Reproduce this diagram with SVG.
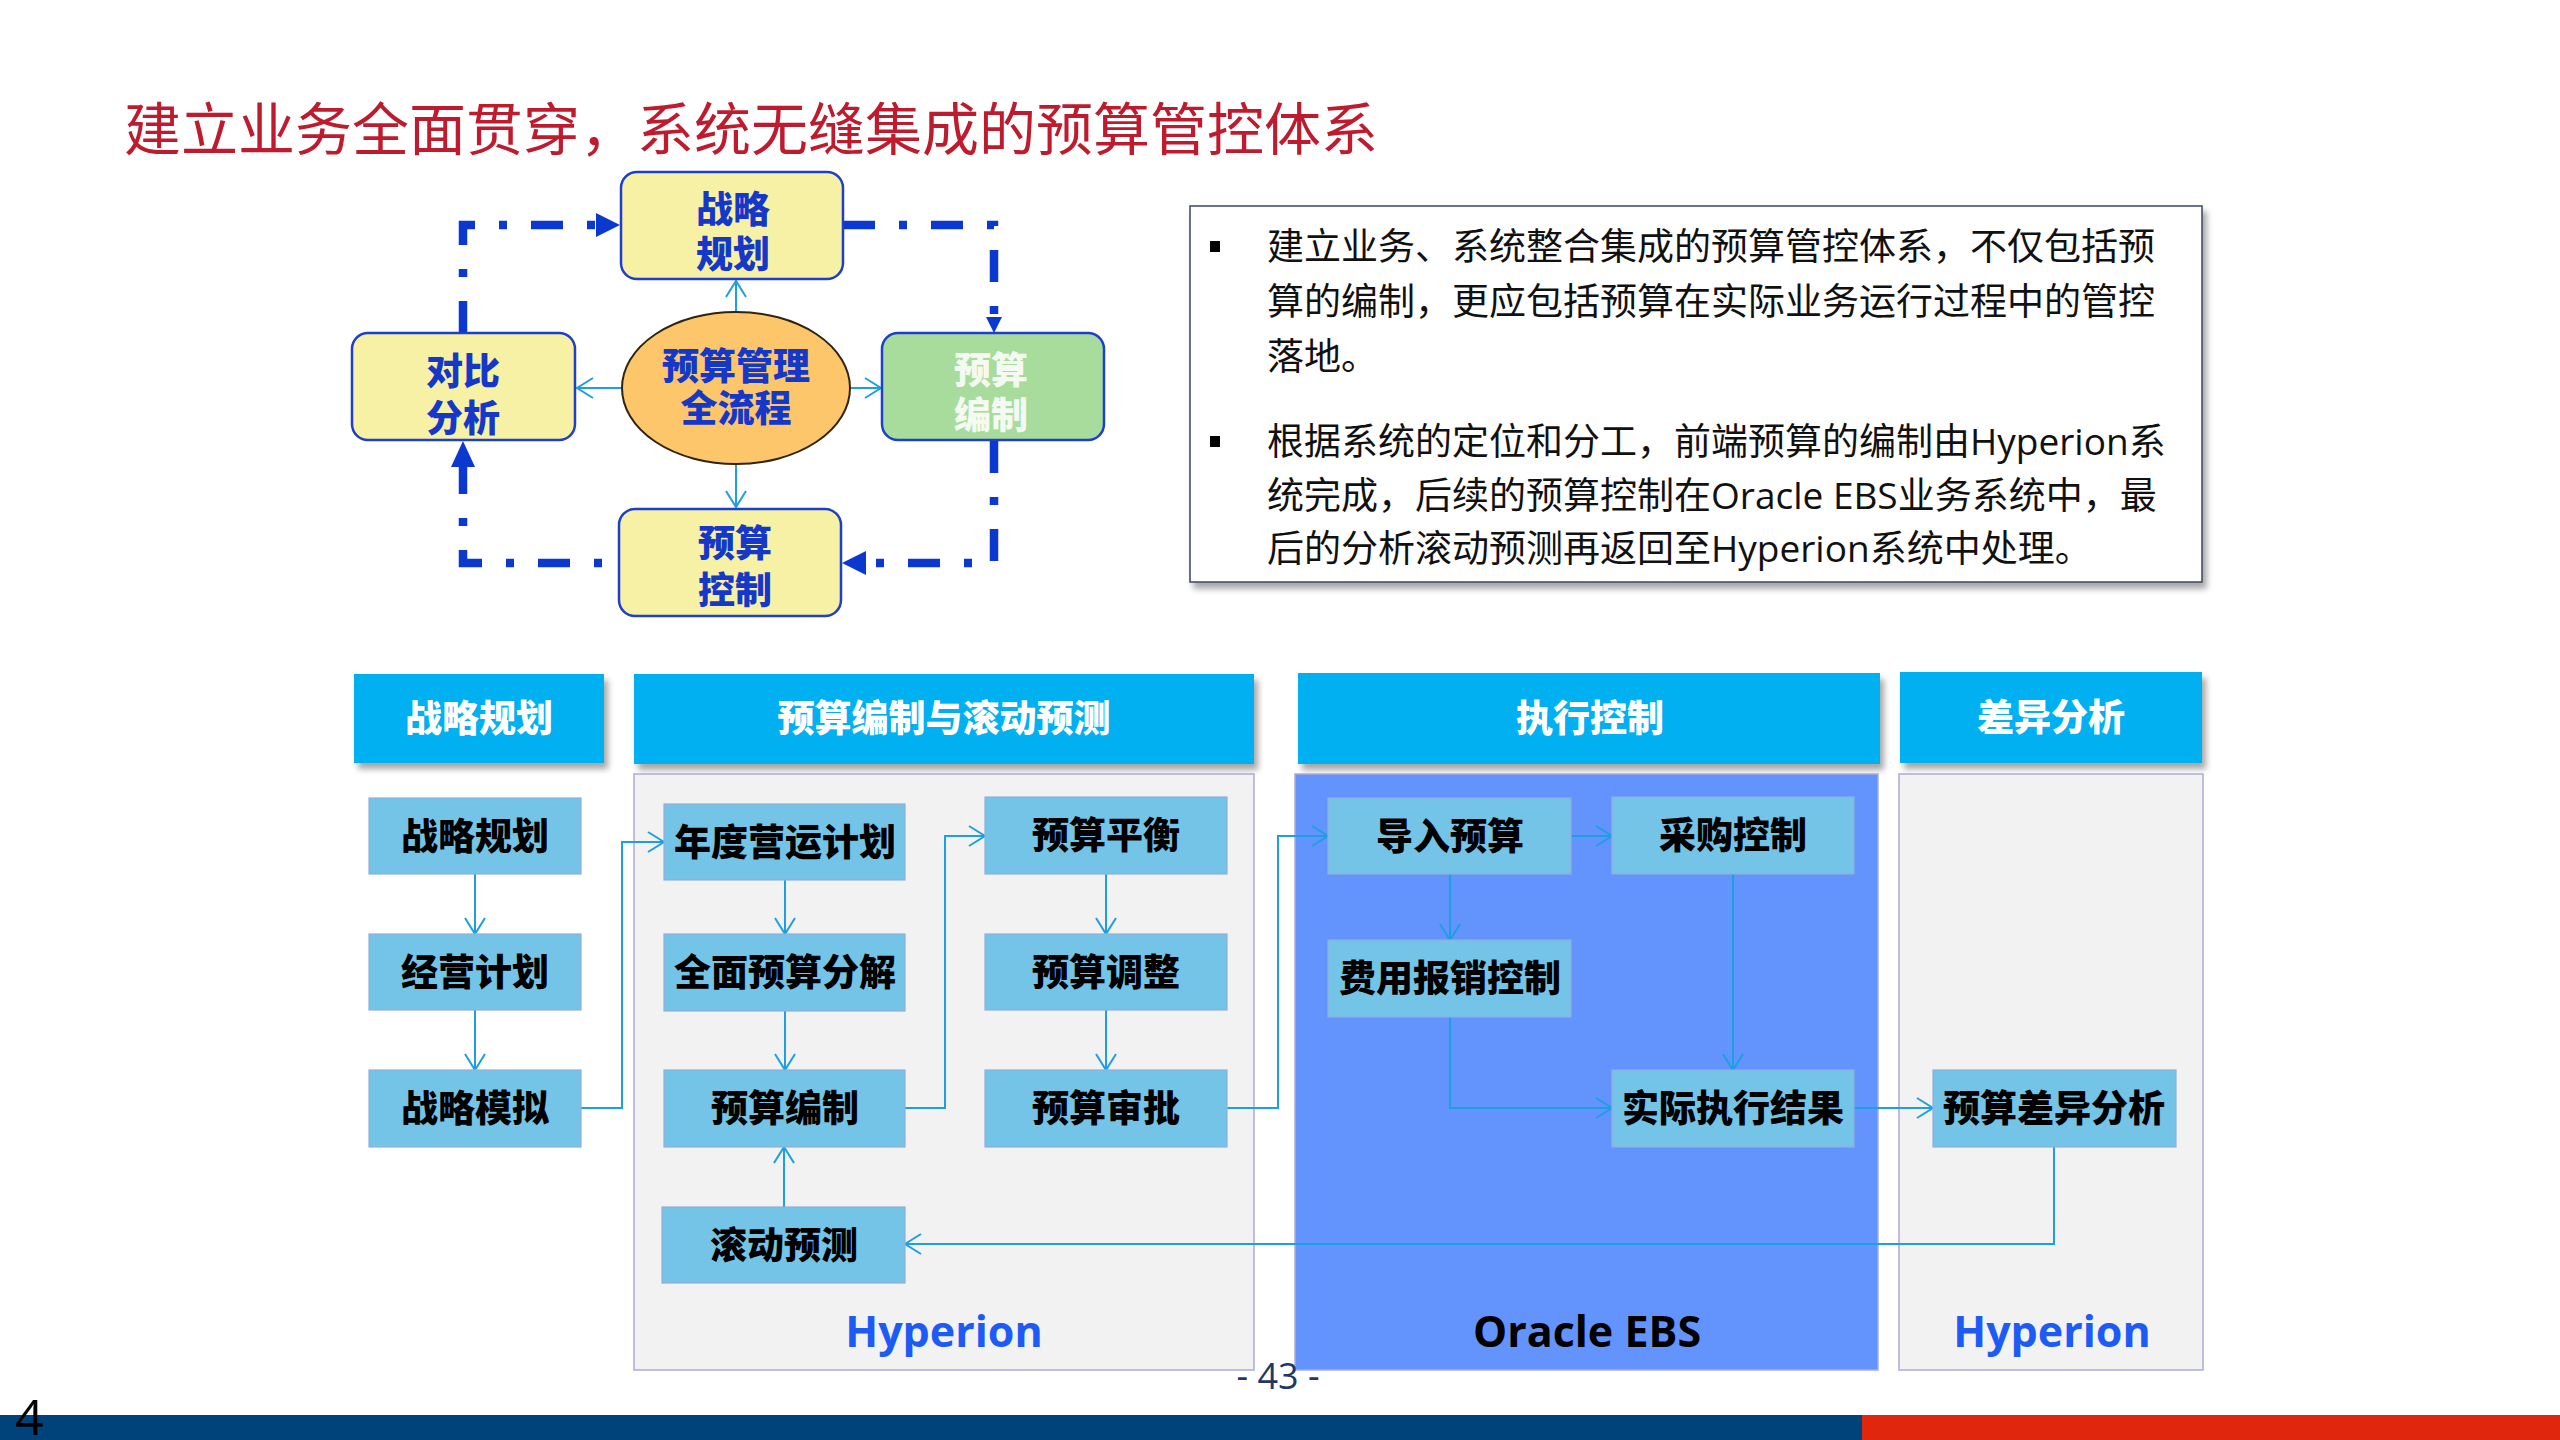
<svg xmlns="http://www.w3.org/2000/svg" width="2560" height="1440" viewBox="0 0 2560 1440">
<style>
text { font-family: "Open Sans", "Noto Sans CJK SC", sans-serif; }
.title { font-size: 57px; fill: #BE1B2E; }
.tb { font-size: 37px; font-weight: 900; fill: #1538C8; text-anchor: middle; }
.tbw { font-size: 37px; font-weight: 900; fill: #F4FAF2; text-anchor: middle; }
.para { font-size: 37px; fill: #111; }
.hd { font-size: 37px; font-weight: 900; fill: #FFFFFF; text-anchor: middle; }
.nd { font-size: 37px; font-weight: 900; fill: #000; text-anchor: middle; }
.sys { font-size: 43px; font-weight: 700; text-anchor: middle; }
.ybox { fill: #F6F1A4; stroke: #1E3FCB; stroke-width: 2.5; }
.hbar { fill: #00B0F0; }
.node { fill: #74C4E7; stroke: #90AEDC; stroke-width: 1.2; }
.panel { fill: #F2F2F2; stroke: #ABABD8; stroke-width: 1.5; }
.dash { fill: none; stroke: #0B38CF; stroke-width: 8.5; stroke-dasharray: 32 24 8 24; stroke-linecap: butt; }
.ah { fill: #0B38CF; }
.thin { fill: none; stroke: #1E9FDF; stroke-width: 2; marker-end: url(#open); }
</style>
<defs>
<marker id="open" markerUnits="userSpaceOnUse" markerWidth="22" markerHeight="24" refX="17" refY="11" orient="auto">
<path d="M1,1 L17,11 L1,21" fill="none" stroke="#1E9FDF" stroke-width="2"/>
</marker>
<filter id="sh" x="-5%" y="-10%" width="115%" height="135%">
<feDropShadow dx="4" dy="6" stdDeviation="3" flood-color="#000" flood-opacity="0.35"/>
</filter>
</defs>

<rect width="2560" height="1440" fill="#FFFFFF"/>

<text class="title" x="124" y="150">建立业务全面贯穿，系统无缝集成的预算管控体系</text>

<!-- top cycle diagram: connectors -->
<g id="cycle-connectors">
<path class="dash" d="M463,333 V225 H596"/>
<polygon class="ah" points="596,213 620,225 596,237"/>
<path class="dash" d="M843,225 H994 V317"/>
<polygon class="ah" points="986,317 994,333 1002,317"/>
<path class="dash" d="M994,441 V563 H866"/>
<polygon class="ah" points="866,551 842,563 866,575"/>
<path class="dash" d="M619,563 H463 V466" stroke-dashoffset="39"/>
<polygon class="ah" points="451,467 463,441 475,467"/>
<path class="thin" d="M736,312 V281"/>
<path class="thin" d="M622,388 H577"/>
<path class="thin" d="M850,388 H881"/>
<path class="thin" d="M736,464 V507"/>
</g>

<g id="cyc-strategy">
<rect class="ybox" x="621" y="172" width="222" height="107" rx="16"/>
<text class="tb" x="733" y="223">战略<tspan x="733" dy="45">规划</tspan></text>
</g>
<g id="cyc-compare">
<rect class="ybox" x="352" y="333" width="223" height="107" rx="16"/>
<text class="tb" x="463" y="385">对比<tspan x="463" dy="47">分析</tspan></text>
</g>
<g id="cyc-prepare">
<rect x="882" y="333" width="222" height="107" rx="16" fill="#A8DC9C" stroke="#1E3FCB" stroke-width="2.5"/>
<text class="tbw" x="991" y="384">预算<tspan x="991" dy="45">编制</tspan></text>
</g>
<g id="cyc-control">
<rect class="ybox" x="619" y="509" width="222" height="107" rx="16"/>
<text class="tb" x="735" y="557">预算<tspan x="735" dy="47">控制</tspan></text>
</g>
<g id="cyc-center">
<ellipse cx="736" cy="388" rx="114" ry="76" fill="#FEC66A" stroke="#2E2410" stroke-width="2"/>
<text class="tb" x="736" y="380" font-size="38">预算管理<tspan x="736" dy="42">全流程</tspan></text>
</g>

<!-- text box -->
<g id="note">
<rect x="1190" y="206" width="1012" height="376" fill="#FFFFFF" stroke="#3A4560" stroke-width="1.5" filter="url(#sh)"/>
<rect x="1210" y="241" width="10" height="11" fill="#000"/>
<rect x="1210" y="436" width="10" height="11" fill="#000"/>
<text class="para" x="1267" y="260">建立业务、系统整合集成的预算管控体系，不仅包括预</text>
<text class="para" x="1267" y="315">算的编制，更应包括预算在实际业务运行过程中的管控</text>
<text class="para" x="1267" y="370">落地。</text>
<text class="para" x="1267" y="455">根据系统的定位和分工，前端预算的编制由Hyperion系</text>
<text class="para" x="1267" y="509">统完成，后续的预算控制在Oracle EBS业务系统中，最</text>
<text class="para" x="1267" y="562">后的分析滚动预测再返回至Hyperion系统中处理。</text>
</g>

<!-- headers -->
<g id="hdr-strategy">
<rect class="hbar" x="354" y="674" width="250" height="89" filter="url(#sh)"/>
<text class="hd" x="479" y="732">战略规划</text>
</g>
<g id="hdr-budget">
<rect class="hbar" x="634" y="674" width="620" height="90" filter="url(#sh)"/>
<text class="hd" x="944" y="732">预算编制与滚动预测</text>
</g>
<g id="hdr-exec">
<rect class="hbar" x="1298" y="673" width="582" height="91" filter="url(#sh)"/>
<text class="hd" x="1590" y="732">执行控制</text>
</g>
<g id="hdr-diff">
<rect class="hbar" x="1900" y="672" width="302" height="91" filter="url(#sh)"/>
<text class="hd" x="2051" y="731">差异分析</text>
</g>

<!-- panels -->
<g id="panel-hyperion1">
<rect class="panel" x="634" y="774" width="620" height="596"/>
<text class="sys" x="944" y="1347" fill="#1E5BF5">Hyperion</text>
</g>
<g id="panel-ebs">
<rect x="1295" y="774" width="583" height="596" fill="#6394FE" stroke="#ABABD8" stroke-width="1.5"/>
<text class="sys" x="1587" y="1347" fill="#000">Oracle EBS</text>
</g>
<g id="panel-hyperion2">
<rect class="panel" x="1899" y="774" width="304" height="596"/>
<text class="sys" x="2052" y="1347" fill="#1E5BF5">Hyperion</text>
</g>

<!-- connectors -->
<g id="connectors">
<path class="thin" d="M475,874 V934"/>
<path class="thin" d="M475,1010 V1070"/>
<path class="thin" d="M581,1108 H622 V842 H664"/>
<path class="thin" d="M785,880 V934"/>
<path class="thin" d="M785,1011 V1070"/>
<path class="thin" d="M905,1108 H945 V836 H985"/>
<path class="thin" d="M1106,874 V934"/>
<path class="thin" d="M1106,1010 V1070"/>
<path class="thin" d="M1227,1108 H1278 V836 H1328"/>
<path class="thin" d="M1571,836 H1612"/>
<path class="thin" d="M1450,874 V940"/>
<path class="thin" d="M1733,874 V1070"/>
<path class="thin" d="M1450,1017 V1108 H1612"/>
<path class="thin" d="M1854,1108 H1933"/>
<path class="thin" d="M2054,1147 V1244 H905"/>
<path class="thin" d="M784,1207 V1147"/>
</g>

<!-- nodes -->
<g id="n-zlgh"><rect class="node" x="369" y="798" width="212" height="76"/><text class="nd" x="475" y="850">战略规划</text></g>
<g id="n-jyjh"><rect class="node" x="369" y="934" width="212" height="76"/><text class="nd" x="475" y="986">经营计划</text></g>
<g id="n-zlmn"><rect class="node" x="369" y="1070" width="212" height="77"/><text class="nd" x="475" y="1122">战略模拟</text></g>
<g id="n-ndyyjh"><rect class="node" x="664" y="804" width="241" height="76"/><text class="nd" x="785" y="856">年度营运计划</text></g>
<g id="n-qmysfj"><rect class="node" x="664" y="934" width="241" height="77"/><text class="nd" x="785" y="986">全面预算分解</text></g>
<g id="n-ysbz"><rect class="node" x="664" y="1070" width="241" height="77"/><text class="nd" x="785" y="1122">预算编制</text></g>
<g id="n-gdyc"><rect class="node" x="662" y="1207" width="243" height="76"/><text class="nd" x="784" y="1259">滚动预测</text></g>
<g id="n-ysph"><rect class="node" x="985" y="797" width="242" height="77"/><text class="nd" x="1106" y="849">预算平衡</text></g>
<g id="n-ystz"><rect class="node" x="985" y="934" width="242" height="76"/><text class="nd" x="1106" y="986">预算调整</text></g>
<g id="n-yssp"><rect class="node" x="985" y="1070" width="242" height="77"/><text class="nd" x="1106" y="1122">预算审批</text></g>
<g id="n-drys"><rect class="node" x="1328" y="798" width="243" height="76"/><text class="nd" x="1450" y="850">导入预算</text></g>
<g id="n-cgkz"><rect class="node" x="1612" y="797" width="242" height="77"/><text class="nd" x="1733" y="849">采购控制</text></g>
<g id="n-fybxkz"><rect class="node" x="1328" y="940" width="243" height="77"/><text class="nd" x="1450" y="992">费用报销控制</text></g>
<g id="n-sjzxjg"><rect class="node" x="1612" y="1070" width="242" height="77"/><text class="nd" x="1733" y="1122">实际执行结果</text></g>
<g id="n-yscyfx"><rect class="node" x="1933" y="1070" width="243" height="77"/><text class="nd" x="2054" y="1122">预算差异分析</text></g>

<!-- footer -->
<text x="1278" y="1389" font-family="Liberation Sans, sans-serif" font-size="36" fill="#1F3864" text-anchor="middle">- 43 -</text>
<rect x="0" y="1415" width="1862" height="25" fill="#00437A"/>
<rect x="1862" y="1415" width="698" height="25" fill="#E0260C"/>
<text x="15" y="1435" font-family="Liberation Sans, sans-serif" font-size="50" fill="#000">4</text>
</svg>
